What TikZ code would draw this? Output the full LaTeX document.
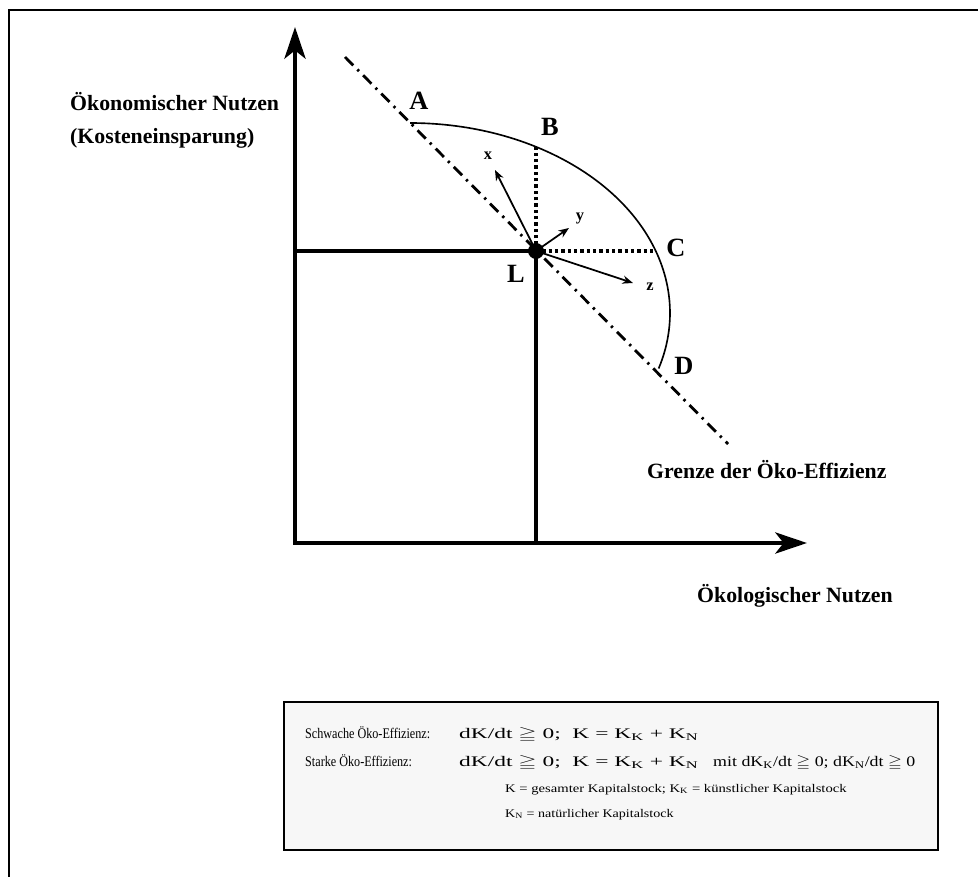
\documentclass[tikz,border=0pt]{standalone}
\usepackage{fontspec}
\setmainfont{Liberation Serif}
\usepackage{amssymb}
\usepackage{graphicx}
\usetikzlibrary{arrows.meta}
\definecolor{boxfill}{HTML}{F7F7F7}
\tikzset{
  axes/.style={line width=3.6pt, {Stealth[length=27pt,width=18pt,inset=7pt]}-{Stealth[length=27pt,width=18pt,inset=7pt]}},
  thickline/.style={line width=2.6pt},
  dotline/.style={line width=2.8pt, dash pattern=on 2.8pt off 2.6pt},
  dashdot/.style={line width=2.4pt, dash pattern=on 10pt off 5pt on 2pt off 5pt},
  vec/.style={line width=1.5pt, -{Stealth[length=9pt,width=7pt]}},
  bigletter/.style={font=\fontsize{22.5}{22.5}\selectfont\bfseries, inner sep=0},
  smallletter/.style={font=\fontsize{14}{14}\selectfont\bfseries, inner sep=0},
  axtitle/.style={font=\fontsize{18.6}{20}\selectfont\bfseries, inner sep=0, anchor=west},
  boxtxt/.style={font=\fontsize{12.5}{14}\selectfont, inner sep=0, anchor=base west},
  boxsmall/.style={font=\fontsize{10}{12}\selectfont, inner sep=0, anchor=base west},
}
\begin{document}
\begin{tikzpicture}[x=0.03cm,y=-0.03cm]
\useasboundingbox (0,0) rectangle (978,877);
% frame
\coordinate (FBL) at (9,877);
\coordinate (FTL) at (9,10);
\coordinate (FTR) at (978,10);
\draw[line width=1.8pt] (FBL) -- (FTL) -- (FTR);
% coordinates
\coordinate (O) at (295,543);
\coordinate (Ytip) at (295,27);
\coordinate (Xtip) at (807,543);
\coordinate (L) at (536,251);
\coordinate (Lleft) at (295,251);
\coordinate (Lbot) at (536,543);
\coordinate (Ap) at (410,123);
\coordinate (Bp) at (536,147);
\coordinate (Cp) at (656,251);
\coordinate (Gs) at (345,57);
\coordinate (Ge) at (728,444);
\coordinate (Xv) at (495,170);
\coordinate (Yv) at (569,228);
\coordinate (Zv) at (633,283);
% axes
\draw[axes] (Ytip) -- (O) -- (Xtip);
\draw[thickline] (Lleft) -- (L) -- (Lbot);
% dotted
\draw[dotline] (L) -- (Bp);
\draw[dotline] (L) -- (Cp);
% efficiency frontier
\draw[dashdot] (Gs) -- (Ge);
% arc
\draw[line width=1.4pt] (Ap) arc[start angle=-90, end angle=17, x radius=260, y radius=190];
% vectors
\draw[vec] (L) -- (Xv);
\draw[vec] (L) -- (Yv);
\draw[vec] (L) -- (Zv);
\fill (L) circle (6.8pt);
% labels
\node[bigletter] (A) at (419,101) {A};
\node[bigletter] (B) at (550,127) {B};
\node[bigletter] (C) at (676,248) {C};
\node[bigletter] (D) at (684,366) {D};
\node[bigletter] (Ll) at (516,274) {L};
\node[smallletter] (xl) at (488,156) {x};
\node[smallletter] (yl) at (580,219) {y};
\node[smallletter] (zl) at (650,287) {z};
\node[axtitle] (t1) at (70,102) {Ökonomischer Nutzen};
\node[axtitle] (t2) at (70,138) {(Kosteneinsparung)};
\node[axtitle] (t3) at (697,596) {Ökologischer Nutzen};
\node[axtitle] (t4) at (647,470) {Grenze der Öko-Effizienz};
% box
\draw[line width=1.6pt, fill=boxfill] (284,702) rectangle (938,850);
\node[boxtxt] (s1) at (305,738) {\scalebox{0.83}[1]{Schwache Öko-Effizienz:}};
\node[boxtxt] (f1) at (459,738) {\scalebox{1.6}[1]{dK/dt $\geqq$ 0;\ \ K = K\textsubscript{K} + K\textsubscript{N}}};
\node[boxtxt] (s2) at (305,766) {\scalebox{0.83}[1]{Starke Öko-Effizienz:}};
\node[boxtxt] (f2) at (459,766) {\scalebox{1.6}[1]{dK/dt $\geqq$ 0;\ \ K = K\textsubscript{K} + K\textsubscript{N}}};
\node[boxtxt] (f3) at (713,766) {\scalebox{1.22}[1]{mit dK\textsubscript{K}/dt $\geqq$ 0; dK\textsubscript{N}/dt $\geqq$ 0}};
\node[boxsmall] (n1) at (505,792) {\scalebox{1.25}[1]{K = gesamter Kapitalstock; K\textsubscript{K} = künstlicher Kapitalstock}};
\node[boxsmall] (n2) at (505,817) {\scalebox{1.2}[1]{K\textsubscript{N} = natürlicher Kapitalstock}};
\end{tikzpicture}
\end{document}
